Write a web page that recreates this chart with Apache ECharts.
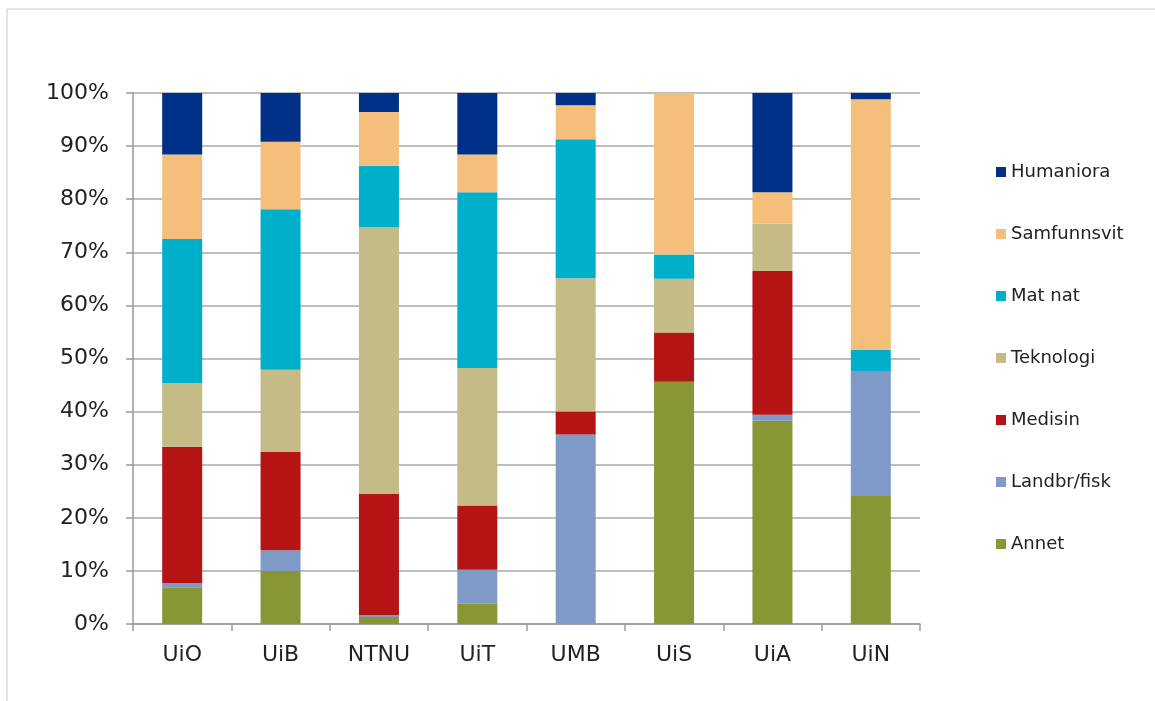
<!DOCTYPE html>
<html>
<head>
<meta charset="utf-8">
<script src="https://cdn.jsdelivr.net/npm/echarts@6/dist/echarts.min.js"></script>
<style>
  html, body { margin: 0; padding: 0; background: #fff; }
  #main { width: 1155px; height: 701px; }
</style>
</head>
<body>
<div id="main"></div>
<script>
// kategorier og andeler (prosent) per fagområde
var universiteter = ['UiO', 'UiB', 'NTNU', 'UiT', 'UMB', 'UiS', 'UiA', 'UiN'];
var annet      = [6.9, 10.0, 1.3, 3.8, 0, 45.6, 38.3, 24.1];
var landbr     = [0.8, 3.9, 0.4, 6.4, 35.7, 0, 1.1, 23.4];
var medisin    = [25.7, 18.5, 22.8, 12.1, 4.3, 9.3, 27.1, 0];
var teknologi  = [12.0, 15.5, 50.2, 25.9, 25.1, 10.1, 8.9, 0];
var matnat     = [27.1, 30.2, 11.6, 33.1, 26.2, 4.6, 0, 4.1];
var samfunn    = [15.9, 12.7, 10.1, 7.1, 6.4, 30.4, 5.9, 47.2];
var humaniora  = [11.6, 9.2, 3.6, 11.6, 2.3, 0, 18.7, 1.2];
var yTicks = ['0%', '10%', '20%', '30%', '40%', '50%', '60%', '70%', '80%', '90%', '100%'];

var myChart = echarts.init(document.getElementById('main'));

function serie(navn, data, farge) {
  return {
    name: navn,
    type: 'bar',
    stack: 'total',
    barWidth: 40,
    data: data,
    itemStyle: { color: farge },
    emphasis: { disabled: true }
  };
}

var option = {
  animation: false,
  textStyle: { fontFamily: 'DejaVu Sans, Verdana, sans-serif' },
  graphic: [
    { type: 'line', shape: { x1: 7, y1: 9, x2: 1155, y2: 9 }, style: { stroke: '#c8c8c8', lineWidth: 1 } },
    { type: 'line', shape: { x1: 7, y1: 9, x2: 7, y2: 701 }, style: { stroke: '#c8c8c8', lineWidth: 1 } }
  ],
  grid: { left: 133, right: 235, top: 93, bottom: 77 },
  legend: {
    orient: 'vertical',
    left: 991,
    top: 158,
    itemWidth: 10,
    itemHeight: 10,
    itemGap: 44,
    icon: 'rect',
    textStyle: { fontSize: 18, color: '#222' },
    data: ['Humaniora', 'Samfunnsvit', 'Mat nat', 'Teknologi', 'Medisin', 'Landbr/fisk', 'Annet']
  },
  xAxis: {
    type: 'category',
    data: universiteter,
    axisLine: { lineStyle: { color: '#9a9a9a', width: 1.5 } },
    axisTick: { show: true, length: 7, lineStyle: { color: '#9a9a9a', width: 1.5 } },
    axisLabel: { fontSize: 22, color: '#222', margin: 20 }
  },
  yAxis: {
    type: 'value',
    min: 0,
    max: 100,
    interval: 10,
    axisLine: { show: true, lineStyle: { color: '#9a9a9a', width: 1.5 } },
    axisTick: { show: true, length: 7, lineStyle: { color: '#9a9a9a', width: 1.5 } },
    splitLine: { lineStyle: { color: '#a8a8a8', width: 1.5 } },
    axisLabel: {
      fontSize: 22,
      color: '#222',
      margin: 24,
      formatter: function (v) { return yTicks[Math.round(v / 10)]; }
    }
  },
  series: [
    serie('Annet', annet, '#889636'),
    serie('Landbr/fisk', landbr, '#7f9ac7'),
    serie('Medisin', medisin, '#b41414'),
    serie('Teknologi', teknologi, '#c4bb87'),
    serie('Mat nat', matnat, '#00b0ca'),
    serie('Samfunnsvit', samfunn, '#f4bf7b'),
    serie('Humaniora', humaniora, '#003087')
  ]
};

myChart.setOption(option);
</script>
</body>
</html>
